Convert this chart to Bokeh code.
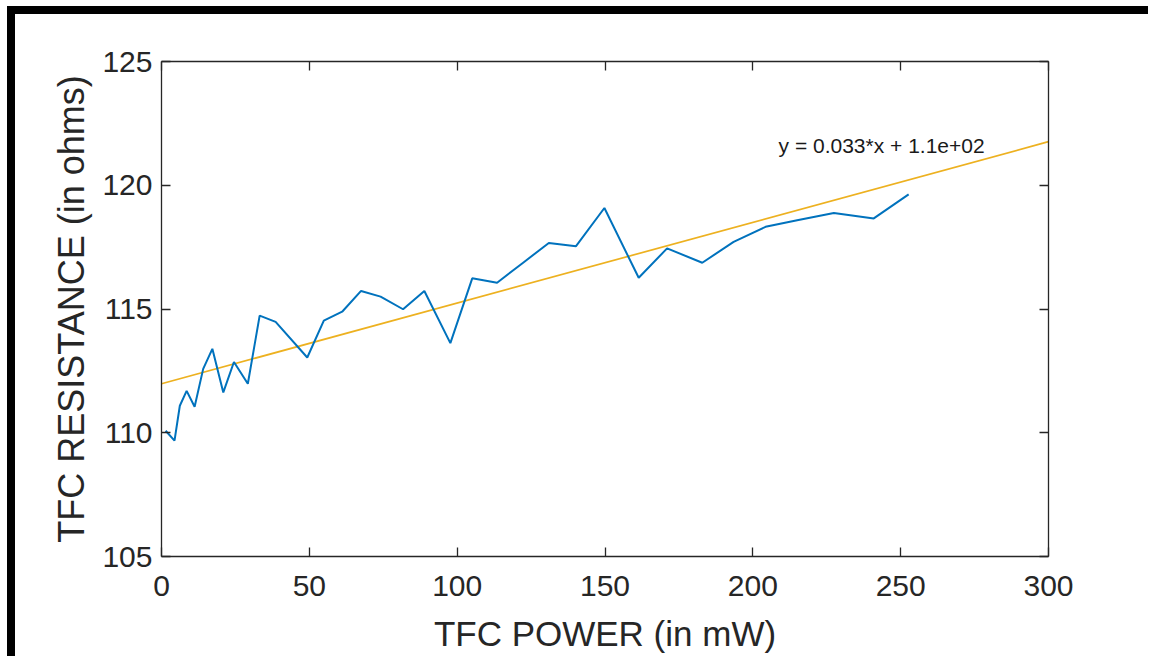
from bokeh.plotting import figure
from bokeh.models import LinearAxis, Range1d, Label, FixedTicker, Div
from bokeh.layouts import column, row
from bokeh.embed import file_html
from bokeh.resources import INLINE

# ---- data ----
power_mw = [1.4, 4.4, 6.2, 8.5, 11.2, 14.1, 17.2, 20.9, 24.5, 29.2, 33.2, 38.6,
            49.3, 54.9, 61.1, 67.5, 74.1, 81.7, 88.9, 97.7, 105.1, 113.5, 122.2,
            131.0, 140.2, 149.8, 161.4, 171.0, 182.9, 193.5, 204.3, 215.0, 227.4,
            240.9, 252.7]
resistance_ohm = [110.08, 109.68, 111.09, 111.69, 111.05, 112.58, 113.39, 111.63,
                  112.86, 111.98, 114.73, 114.48, 113.04, 114.53, 114.89, 115.73,
                  115.50, 114.99, 115.73, 113.62, 116.24, 116.06, 116.86, 117.67,
                  117.54, 119.08, 116.26, 117.45, 116.87, 117.71, 118.32, 118.59,
                  118.88, 118.66, 119.63]

fit_slope = 0.0326
fit_intercept = 111.98
fit_x = [0, 300]
fit_y = [fit_intercept + fit_slope * x for x in fit_x]
fit_text = "y = 0.033*x + 1.1e+02"

x_ticks = [0, 50, 100, 150, 200, 250, 300]
y_ticks = [105, 110, 115, 120, 125]
x_label = "TFC POWER (in mW)"
y_label = "TFC RESISTANCE (in ohms)"

FONT = "Liberation Sans"
AX = "#262626"

p = figure(width=1133, height=642,
           x_range=Range1d(0, 300), y_range=Range1d(105, 125),
           output_backend="svg", toolbar_location=None,
           min_border_left=146, min_border_top=47,
           min_border_right=100, min_border_bottom=100)
p.grid.visible = False
p.outline_line_color = None
p.background_fill_color = "white"
p.border_fill_color = "white"

p.line(fit_x, fit_y, line_color="#EDB120", line_width=1.7)
p.line(power_mw, resistance_ohm, line_color="#0072BD", line_width=2.0)

p.add_layout(Label(x=208.7, y=121.62, text=fit_text,
                   text_font=FONT, text_font_size="21px", text_color="#1a1a1a",
                   text_baseline="middle", text_align="left"))


def style_axis(ax, show_labels):
    ax.axis_line_color = AX
    ax.axis_line_width = 1.3
    ax.major_tick_line_color = AX
    ax.major_tick_line_width = 1.3
    ax.major_tick_in = 9
    ax.major_tick_out = 0
    ax.minor_tick_line_color = None
    ax.major_label_text_font = FONT
    ax.major_label_text_font_size = "30px"
    ax.major_label_text_color = AX if show_labels else None
    ax.axis_label_text_font = FONT
    ax.axis_label_text_font_style = "normal"
    ax.axis_label_text_color = AX


xa = p.xaxis[0]
xa.ticker = FixedTicker(ticks=x_ticks)
style_axis(xa, True)
xa.axis_label = x_label
xa.axis_label_text_font_size = "35px"
xa.major_label_standoff = 19
xa.axis_label_standoff = 15

ya = p.yaxis[0]
ya.ticker = FixedTicker(ticks=y_ticks)
style_axis(ya, True)
ya.axis_label = y_label
ya.axis_label_text_font_size = "36px"
ya.major_label_standoff = 9
ya.axis_label_standoff = 7

top = LinearAxis(ticker=FixedTicker(ticks=x_ticks))
style_axis(top, False)
p.add_layout(top, "above")
right = LinearAxis(ticker=FixedTicker(ticks=y_ticks))
style_axis(right, False)
p.add_layout(right, "right")

BLACK = {"background-color": "black"}


def box(w, h, black=False):
    return Div(width=w, height=h, margin=0, styles=BLACK if black else {})


layout = column(
    box(1148, 6),
    row(box(7, 8), box(1141, 8, True), spacing=0),
    row(box(7, 642), box(8, 642, True), p, spacing=0),
    spacing=0,
)

open("out.html", "w").write(file_html(layout, INLINE))
